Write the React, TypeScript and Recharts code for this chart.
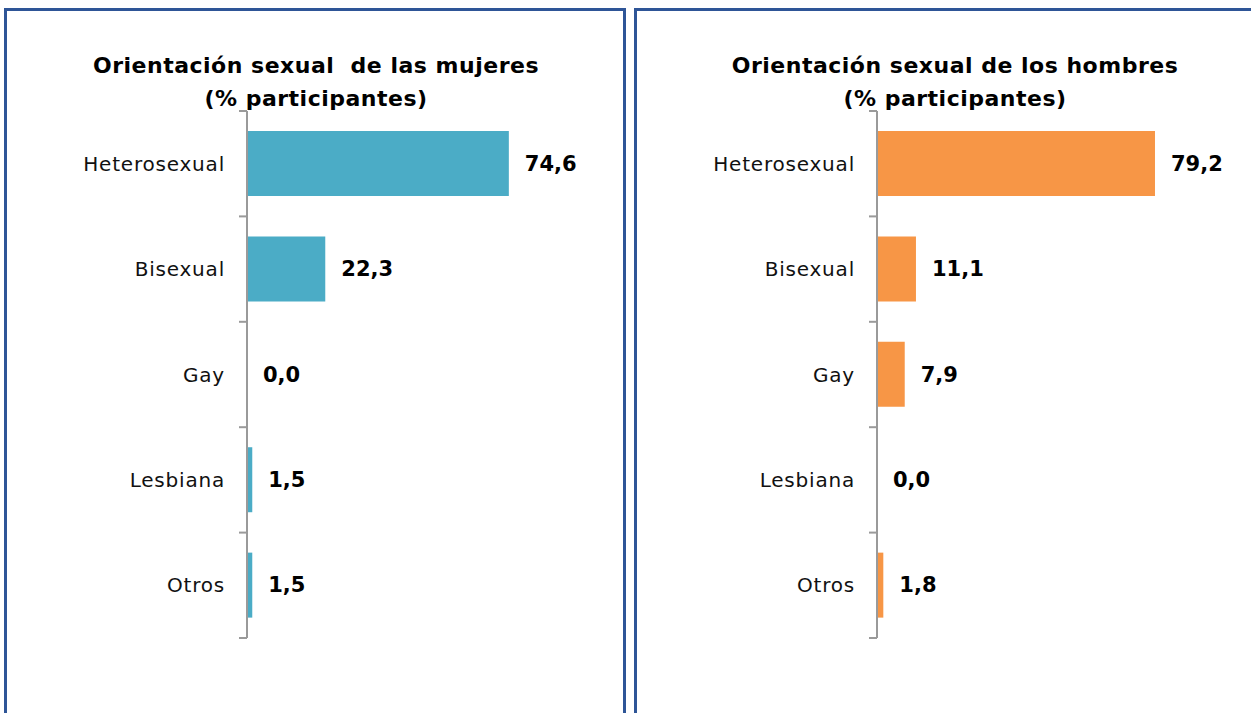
import React from 'react';
import { BarChart, Bar, XAxis, YAxis, LabelList } from 'recharts';

const categories = ['Heterosexual', 'Bisexual', 'Gay', 'Lesbiana', 'Otros'];
const womenValues = [74.6, 22.3, 0.0, 1.5, 1.5];
const menValues = [79.2, 11.1, 7.9, 0.0, 1.8];

const FONT = "'Century Gothic', 'DejaVu Sans', sans-serif";
const CHART_W = 625;
const CHART_H = 700;
const MARGIN = { top: 111, right: 27, bottom: 62, left: 0 };
const BAND = (CHART_H - MARGIN.top - MARGIN.bottom) / categories.length;

const fmt = (v: any) => Number(v).toFixed(1).replace('.', ',');

function CategoryTick(props: any) {
  const { x, y, payload, index } = props;
  const last = index === categories.length - 1;
  return (
    <g>
      <line x1={x - 8} x2={x} y1={y - BAND / 2} y2={y - BAND / 2} stroke="#9a9a9a" strokeWidth={2} />
      {last && <line x1={x - 8} x2={x} y1={y + BAND / 2} y2={y + BAND / 2} stroke="#9a9a9a" strokeWidth={2} />}
      <text
        x={x - 22}
        y={y}
        dy="0.35em"
        textAnchor="end"
        fontSize={20}
        letterSpacing={0.8}
        fill="#111"
        fontFamily={FONT}
      >
        {payload.value}
      </text>
    </g>
  );
}

function ValueLabel(props: any) {
  const { x, y, width, height, value } = props;
  return (
    <text
      x={Number(x) + Number(width) + 16}
      y={Number(y) + Number(height) / 2}
      dy="0.35em"
      fill="#000"
      fontWeight="bold"
      fontSize={21}
      fontFamily={FONT}
    >
      {fmt(value)}
    </text>
  );
}

function Panel({ title, values, color, left, width }: { title: string[]; values: number[]; color: string; left: number; width: number }) {
  const data = categories.map((c, i) => ({ name: c, value: values[i] }));
  return (
    <div style={{ position: 'absolute', left, top: 0, width: CHART_W, height: 713 }}>
      <div
        style={{
          position: 'absolute',
          left: 4,
          top: 8,
          width,
          height: 760,
          border: '3px solid #2E5597',
          boxSizing: 'border-box',
        }}
      />
      <div
        style={{
          position: 'absolute',
          left: 20,
          top: 49,
          width: width - 30,
          textAlign: 'center',
          fontFamily: FONT,
          fontWeight: 'bold',
          fontSize: 22,
          letterSpacing: 0.5,
          lineHeight: '33px',
          color: '#000',
          whiteSpace: 'pre',
        }}
      >
        {title.join('\n')}
      </div>
      <div style={{ position: 'absolute', left: 0, top: 0 }}>
        <BarChart width={CHART_W} height={CHART_H} data={data} layout="vertical" margin={MARGIN} barCategoryGap="19%">
          <XAxis type="number" domain={[0, 100]} hide />
          <YAxis
            type="category"
            dataKey="name"
            width={247}
            tickLine={false}
            tickSize={0}
            tickMargin={0}
            axisLine={{ stroke: '#9a9a9a', strokeWidth: 2 }}
            tick={<CategoryTick />}
            interval={0}
          />
          <Bar dataKey="value" fill={color} minPointSize={0.01} isAnimationActive={false}>
            <LabelList dataKey="value" content={<ValueLabel />} />
          </Bar>
        </BarChart>
      </div>
    </div>
  );
}

export default function App() {
  return (
    <div style={{ position: 'absolute', left: 0, top: 0, width: 1251, height: 713, overflow: 'hidden', background: '#fff' }}>
      <Panel title={['Orientación sexual  de las mujeres', '(% participantes)']} values={womenValues} color="#4BACC6" left={0} width={622} />
      <Panel title={['Orientación sexual de los hombres', '(% participantes)']} values={menValues} color="#F79646" left={630} width={640} />
    </div>
  );
}
